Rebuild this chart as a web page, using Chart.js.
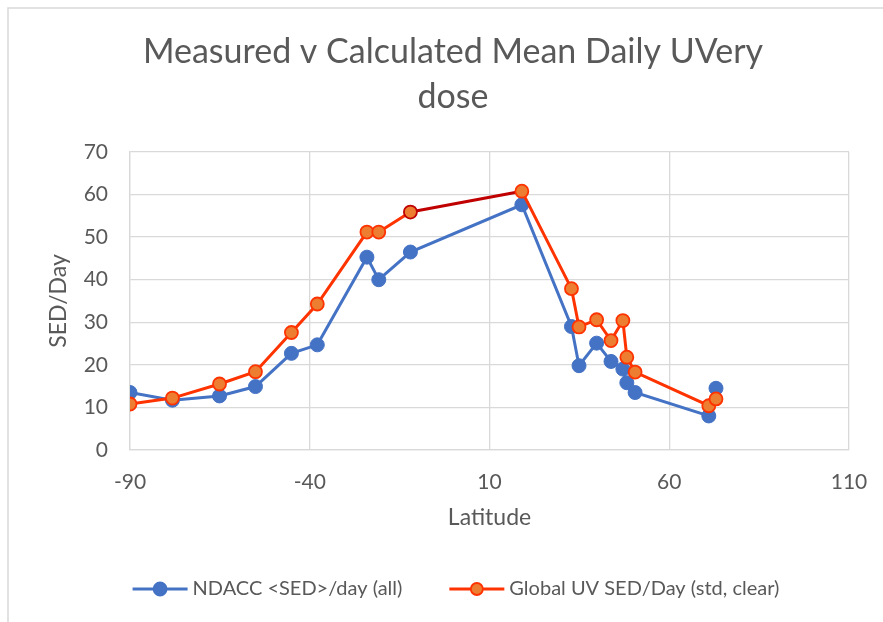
<!DOCTYPE html>
<html>
<head>
<meta charset="utf-8">
<script src="https://cdn.jsdelivr.net/npm/chart.js@4.4.1/dist/chart.umd.min.js"></script>
<style>
html, body { margin: 0; padding: 0; background: #fff; }
</style>
</head>
<body>
<canvas id="uvChart" width="883" height="622"></canvas>
<script>
// values
var latitudes = [-90, -78.2, -65.1, -55.1, -45.1, -37.9, -24.1, -20.8, -12.0, 19.0, 32.8, 34.9, 39.8, 43.8, 47.1, 48.2, 50.5, 71.0, 73.0];
var ndaccSed = [13.5, 11.7, 12.7, 14.9, 22.7, 24.7, 45.3, 40.0, 46.5, 57.6, 29.0, 19.8, 25.1, 20.8, 19.0, 15.8, 13.5, 8.0, 14.5];
var globalUvSed = [10.8, 12.2, 15.5, 18.4, 27.6, 34.3, 51.2, 51.2, 55.9, 60.8, 37.9, 28.9, 30.6, 25.7, 30.4, 21.8, 18.3, 10.4, 12.0];
var seriesNames = ['NDACC <SED>/day (all)', 'Global UV SED/Day (std, clear)'];
var titleLines = ['Measured v Calculated Mean Daily UVery', 'dose'];

var blue = '#4472C4';
var orangeLine = '#FF3300';
var orangeFill = '#ED7D31';
var darkRed = '#C00000';
var textGrey = '#595959';
var gridGrey = '#D9D9D9';
var fontStack = 'Lato, "Open Sans", sans-serif';
var frameCenter = 455;  // the chart frame runs past the right edge of the picture

Chart.defaults.font.family = fontStack;
Chart.defaults.color = textGrey;

function toPoints(ys) {
    return latitudes.map(function (x, i) { return { x: x, y: ys[i] }; });
}

var orangeBorders = globalUvSed.map(function (v, i) { return i === 8 ? darkRed : orangeLine; });

var framePlugin = {
    id: 'frame',
    beforeDraw: function (chart) {
        var ctx = chart.ctx;
        ctx.save();
        ctx.strokeStyle = gridGrey;
        ctx.lineWidth = 1.5;
        ctx.beginPath();
        ctx.moveTo(8, chart.height);
        ctx.lineTo(8, 8);
        ctx.lineTo(chart.width, 8);
        ctx.stroke();

        // two-line chart title
        ctx.fillStyle = textGrey;
        ctx.font = '34px ' + fontStack;
        ctx.textAlign = 'center';
        ctx.textBaseline = 'alphabetic';
        ctx.fillText(titleLines[0], frameCenter - 2, 63);
        ctx.fillText(titleLines[1], frameCenter - 2, 108);
        ctx.restore();
    }
};

var legendPlugin = {
    id: 'lineLegend',
    afterDraw: function (chart) {
        var ctx = chart.ctx;
        var items = [
            { text: seriesNames[0], line: blue, fill: blue, stroke: blue, r: 6.5 },
            { text: seriesNames[1], line: orangeLine, fill: orangeFill, stroke: orangeLine, r: 6 }
        ];
        var lineLen = 55, gapText = 5, gapItem = 47, y = 589;
        ctx.save();
        ctx.font = '20px ' + fontStack;
        var total = 0;
        items.forEach(function (it, i) {
            it.w = ctx.measureText(it.text).width;
            total += lineLen + gapText + it.w + (i ? gapItem : 0);
        });
        var x = frameCenter + 1 - total / 2;
        items.forEach(function (it) {
            ctx.strokeStyle = it.line;
            ctx.lineWidth = 3;
            ctx.beginPath();
            ctx.moveTo(x, y);
            ctx.lineTo(x + lineLen, y);
            ctx.stroke();
            ctx.beginPath();
            ctx.arc(x + lineLen / 2, y, it.r, 0, Math.PI * 2);
            ctx.fillStyle = it.fill;
            ctx.fill();
            ctx.lineWidth = 1.8;
            ctx.strokeStyle = it.stroke;
            ctx.stroke();
            ctx.fillStyle = textGrey;
            ctx.textBaseline = 'middle';
            ctx.fillText(it.text, x + lineLen + gapText, y);
            x += lineLen + gapText + it.w + gapItem;
        });
        ctx.restore();
    }
};

var uvChart = new Chart(document.getElementById('uvChart').getContext('2d'), {
    type: 'scatter',
    data: {
        datasets: [{
            label: seriesNames[0],
            data: toPoints(ndaccSed),
            showLine: true,
            borderColor: blue,
            borderWidth: 3,
            pointRadius: 7,
            pointBackgroundColor: blue,
            pointBorderColor: blue,
            pointBorderWidth: 1,
            order: 1
        }, {
            label: seriesNames[1],
            data: toPoints(globalUvSed),
            showLine: true,
            borderColor: orangeLine,
            borderWidth: 3,
            pointRadius: 6.5,
            pointBackgroundColor: orangeFill,
            pointBorderColor: orangeBorders,
            pointBorderWidth: 1.8,
            segment: {
                borderColor: function (ctx) { return ctx.p0DataIndex === 8 ? darkRed : undefined; }
            },
            order: 0
        }]
    },
    options: {
        responsive: false,
        animation: false,
        layout: { padding: { left: 0, right: 34, top: 152, bottom: 91 } },
        plugins: {
            legend: { display: false },
            tooltip: { enabled: false },
            title: { display: false }
        },
        scales: {
            x: {
                type: 'linear',
                min: -90,
                max: 110,
                ticks: { stepSize: 50, padding: 20, color: textGrey, font: { size: 21 } },
                grid: { color: gridGrey, lineWidth: 1.3, drawTicks: false },
                border: { color: gridGrey, width: 1.3 },
                title: { display: true, text: 'Latitude', color: textGrey, font: { size: 23 }, padding: { top: 4, bottom: 0 } },
                afterFit: function (axis) {
                    axis.height = 81;
                    axis.paddingLeft = 0;
                    axis.paddingRight = 0;
                }
            },
            y: {
                min: 0,
                max: 70,
                ticks: { stepSize: 10, padding: 22, color: textGrey, font: { size: 21 } },
                grid: { color: gridGrey, lineWidth: 1.3, drawTicks: false },
                border: { color: gridGrey, width: 1.3 },
                title: { display: true, text: 'SED/Day', color: textGrey, font: { size: 23 }, padding: { top: 45, bottom: 0 } },
                afterFit: function (axis) { axis.width = 130; }
            }
        }
    },
    plugins: [framePlugin, legendPlugin]
});
</script>
</body>
</html>
